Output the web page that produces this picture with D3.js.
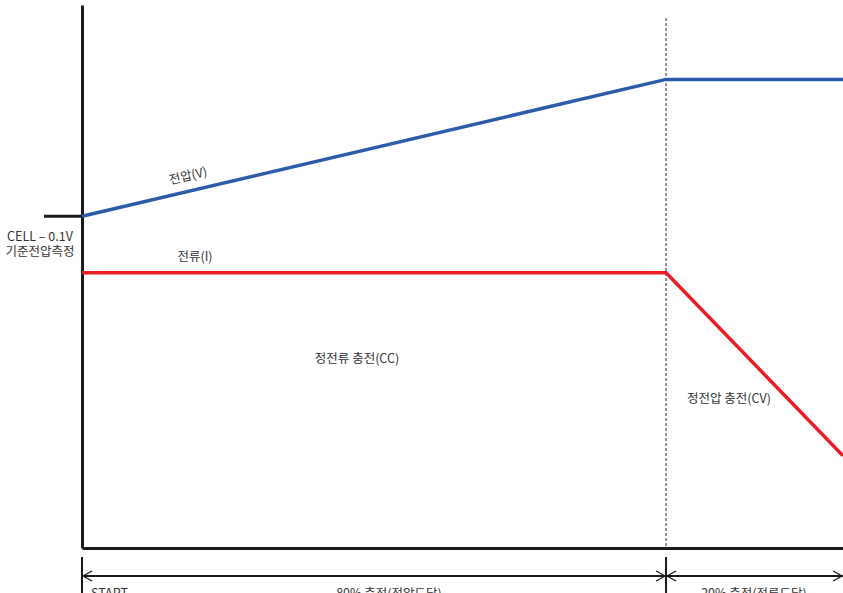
<!DOCTYPE html>
<html>
<head>
<meta charset="utf-8">
<script src="https://cdn.jsdelivr.net/npm/d3@7"></script>
<style>
  html, body { margin: 0; padding: 0; background: #fff; }
  svg { display: block; }
  text { font-family: "Noto Sans CJK KR", "Noto Sans", sans-serif; fill: #333; font-size: 12.5px; }
</style>
</head>
<body>
<div id="chart"></div>
<script>
// time points (CC start, CC -> CV switch, end of view)
const times = [0, 1, 1.303];
// voltage and current levels (relative, 0-100)
const voltage = [61.1, 86.3, 86.3];
const current = [50.7, 50.7, 17.0];
const refLevel = 61.1; // CELL - 0.1V reference
const phaseLabels = ["START", "80% 충전(전압도달)", "20% 충전(전류도달)"];

const width = 843, height = 593;
const marginTop = 5, marginRight = 0, marginBottom = 45, marginLeft = 82;

const x = d3.scaleLinear([0, 1.303], [marginLeft, width - marginRight]);
const y = d3.scaleLinear([0, 100], [height - marginBottom, marginTop]);

const svg = d3.select("#chart").append("svg")
    .attr("width", width)
    .attr("height", height);

// axes without ticks
svg.append("g")
    .attr("transform", `translate(0,${y(0)})`)
    .call(d3.axisBottom(x).ticks(0).tickSizeOuter(0))
    .call(g => g.select(".domain").attr("stroke", "#1a1a1a").attr("stroke-width", 3));

svg.append("g")
    .attr("transform", `translate(${x(0)},0)`)
    .call(d3.axisLeft(y).ticks(0).tickSizeOuter(0))
    .call(g => g.select(".domain").attr("stroke", "#1a1a1a").attr("stroke-width", 3));

// CC/CV switch dashed line
svg.append("line")
    .attr("x1", x(times[1])).attr("x2", x(times[1]))
    .attr("y1", y(97.6)).attr("y2", y(0))
    .attr("stroke", "#222")
    .attr("stroke-width", 1)
    .attr("stroke-dasharray", "3,2");

const line = d3.line().x(d => x(d[0])).y(d => y(d[1]));

svg.append("path")
    .datum(d3.zip(times, voltage))
    .attr("fill", "none")
    .attr("stroke", "#2b5ca9")
    .attr("stroke-width", 3.5)
    .attr("d", line);

svg.append("path")
    .datum(d3.zip(times, current))
    .attr("fill", "none")
    .attr("stroke", "#ec1c24")
    .attr("stroke-width", 3.5)
    .attr("d", line);

// reference tick
svg.append("line")
    .attr("x1", 44).attr("x2", x(0) - 1)
    .attr("y1", y(refLevel)).attr("y2", y(refLevel))
    .attr("stroke", "#1a1a1a")
    .attr("stroke-width", 3);

svg.append("text")
    .attr("x", 40).attr("y", y(refLevel) + 25)
    .attr("text-anchor", "middle")
    .text("CELL – 0.1V");
svg.append("text")
    .attr("x", 40).attr("y", y(refLevel) + 40)
    .attr("text-anchor", "middle")
    .text("기준전압측정");

// series labels
const ang = Math.atan2(y(voltage[1]) - y(voltage[0]), x(times[1]) - x(times[0])) * 180 / Math.PI;
svg.append("text")
    .attr("transform", `translate(189,180) rotate(${ang})`)
    .attr("text-anchor", "middle")
    .text("전압(V)");

svg.append("text")
    .attr("x", 195).attr("y", y(current[0]) - 12)
    .attr("text-anchor", "middle")
    .text("전류(I)");

svg.append("text")
    .attr("x", 357).attr("y", 363)
    .attr("text-anchor", "middle")
    .text("정전류 충전(CC)");

svg.append("text")
    .attr("x", 729).attr("y", 403)
    .attr("text-anchor", "middle")
    .text("정전압 충전(CV)");

// dimension line below axis
const dimY = 576;
const dim = svg.append("g").attr("stroke", "#1a1a1a").attr("fill", "none");
[times[0], times[1]].forEach(t => {
  dim.append("line")
      .attr("x1", x(t)).attr("x2", x(t))
      .attr("y1", 557).attr("y2", height)
      .attr("stroke-width", 2);
});
dim.append("line")
    .attr("x1", x(times[0])).attr("x2", x(times[2]))
    .attr("y1", dimY).attr("y2", dimY)
    .attr("stroke-width", 2);

function arrow(xTip, dir) {
  dim.append("path")
      .attr("d", `M${xTip - dir * 9},${dimY - 5}L${xTip},${dimY}L${xTip - dir * 9},${dimY + 5}`)
      .attr("stroke-width", 1.3);
}
arrow(x(times[0]) + 1, -1);
arrow(x(times[1]) - 1, 1);
arrow(x(times[1]) + 1, -1);
arrow(x(times[2]) - 1, 1);

svg.append("text")
    .attr("x", x(times[0]) + 9).attr("y", 598)
    .text(phaseLabels[0]);
svg.append("text")
    .attr("x", 389).attr("y", 598)
    .attr("text-anchor", "middle")
    .text(phaseLabels[1]);
svg.append("text")
    .attr("x", 754).attr("y", 598)
    .attr("text-anchor", "middle")
    .text(phaseLabels[2]);
</script>
</body>
</html>
